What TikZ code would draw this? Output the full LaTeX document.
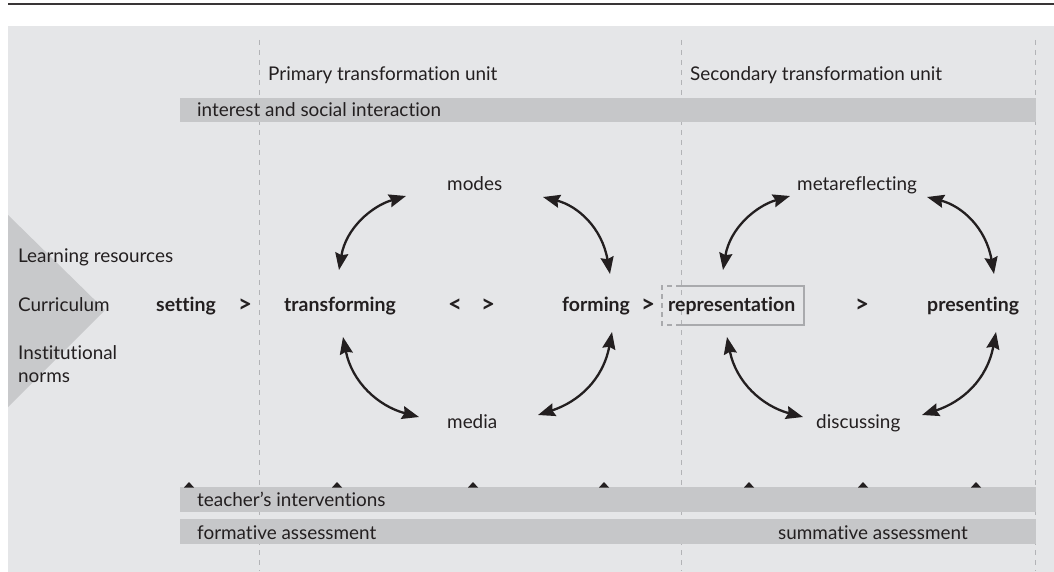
\documentclass[tikz,border=0pt]{standalone}
\usepackage{fontspec}
\setmainfont{Lato}[Ligatures={TeX,NoCommon}]
\usetikzlibrary{arrows.meta}
\definecolor{bgc}{HTML}{E5E6E8}
\definecolor{barc}{HTML}{C6C7C9}
\definecolor{ink}{HTML}{231F20}
\definecolor{dashc}{HTML}{B2B3B6}
\definecolor{tric}{HTML}{C8C9CB}
\definecolor{boxc}{HTML}{A9AAAD}
\begin{document}
\begin{tikzpicture}[x=1pt,y=-1pt,
  txt/.style={anchor=base west,inner sep=0pt,text=ink,font=\fontsize{18.9}{22}\selectfont},
  btxt/.style={txt,font=\fontsize{19.5}{22}\selectfont\bfseries},
  sym/.style={txt,font=\fontsize{24}{26}\selectfont\bfseries},
  vdash/.style={draw=dashc,line width=1pt,dash pattern=on 5pt off 5pt},
  cyc/.style={draw=ink,line width=2.3pt,{Stealth[length=17pt,width=13pt,inset=2pt]}-{Stealth[length=17pt,width=13pt,inset=2pt]}},
  repbox/.style={draw=boxc,line width=2pt}]
\useasboundingbox (0,0) rectangle (1054,572);
% background and top rule
\fill[bgc] (8,26) rectangle (1054,572);
\draw[ink!90,line width=2pt] (8,4.5) -- (1054,4.5);
% left triangle
\fill[tric] (8,215) -- (105,310) -- (8,407) -- cycle;
% dashed unit separators
\coordinate (d1t) at (259,40); \coordinate (d1b) at (259,571);
\coordinate (d2t) at (681,40); \coordinate (d2b) at (681,571);
\coordinate (d3t) at (1035,40); \coordinate (d3b) at (1035,571);
\draw[vdash] (d1t) -- (d1b);
\draw[vdash] (d2t) -- (d2b);
\draw[vdash] (d3t) -- (d3b);
% bars
\fill[barc] (180,98) rectangle (1036,122);
\fill[barc] (180,487) rectangle (1036,512);
\fill[barc] (180,519) rectangle (1036,544);
% headings
\node[txt] (prim) at (268,81) {Primary transformation unit};
\node[txt] (sec) at (690,81) {Secondary transformation unit};
\node[txt] (inter) at (197,117) {interest and social interaction};
% left labels
\node[txt] (lr) at (18,262) {Learning resources};
\node[txt] (cur) at (18,311) {Curriculum};
\node[txt] (inst) at (18,359) {Institutional};
\node[txt] (norms) at (18,382) {norms};
% main row
\node[btxt] (setting) at (156,311) {setting};
\node[sym] (g1) at (238,312) {>};
\node[btxt] (transf) at (284,311) {transforming};
\node[sym] (lt) at (448,312) {<};
\node[sym] (g2) at (481,312) {>};
\node[btxt] (forming) at (562,311) {forming};
\node[sym] (g3) at (641,312) {>};
\node[btxt] (repr) at (668,311) {representation};
\node[sym] (g4) at (855,312) {>};
\node[btxt] (pres) at (927,311) {presenting};
% cycle labels
\node[txt] (modes) at (447,191) {modes};
\node[txt] (media) at (447,428) {media};
\node[txt] (meta) at (797,191) {metareflecting};
\node[txt] (disc) at (816,428) {discussing};
% representation box
\draw[repbox] (681,286) -- (804,286) -- (804,325) -- (681,325);
\draw[repbox,dash pattern=on 5pt off 4pt] (681,286) -- (662,286) -- (662,325) -- (681,325);
% cycle arrows (left unit)
\coordinate (a1) at (339,270); \coordinate (a2) at (406,196);
\coordinate (b1) at (543,197); \coordinate (b2) at (610,274);
\coordinate (c1) at (343,337); \coordinate (c2) at (419,417);
\coordinate (e1) at (612,332); \coordinate (e2) at (538,415);
\draw[cyc] (a1) .. controls (346,228) and (372,206) .. (a2);
\draw[cyc] (b1) .. controls (578,206) and (602,228) .. (b2);
\draw[cyc] (c1) .. controls (352,382) and (378,406) .. (c2);
\draw[cyc] (e1) .. controls (603,380) and (578,402) .. (e2);
% cycle arrows (right unit)
\coordinate (f1) at (723,270); \coordinate (f2) at (790,196);
\coordinate (h1) at (927,197); \coordinate (h2) at (994,274);
\coordinate (k1) at (727,337); \coordinate (k2) at (803,417);
\coordinate (m1) at (996,332); \coordinate (m2) at (922,415);
\draw[cyc] (f1) .. controls (730,228) and (756,206) .. (f2);
\draw[cyc] (h1) .. controls (962,206) and (986,228) .. (h2);
\draw[cyc] (k1) .. controls (736,382) and (762,406) .. (k2);
\draw[cyc] (m1) .. controls (987,380) and (962,402) .. (m2);
% intervention markers
\foreach \mx in {189,337,473,604,749,863,976}
  \fill[ink] (\mx-5,487.5) -- (\mx,482) -- (\mx+5,487.5) -- cycle;
% bottom bar texts
\node[txt] (teach) at (197,506) {teacher’s interventions};
\node[txt] (form) at (197,539) {formative assessment};
\node[txt] (summ) at (778,539) {summative assessment};
\end{tikzpicture}
\end{document}
